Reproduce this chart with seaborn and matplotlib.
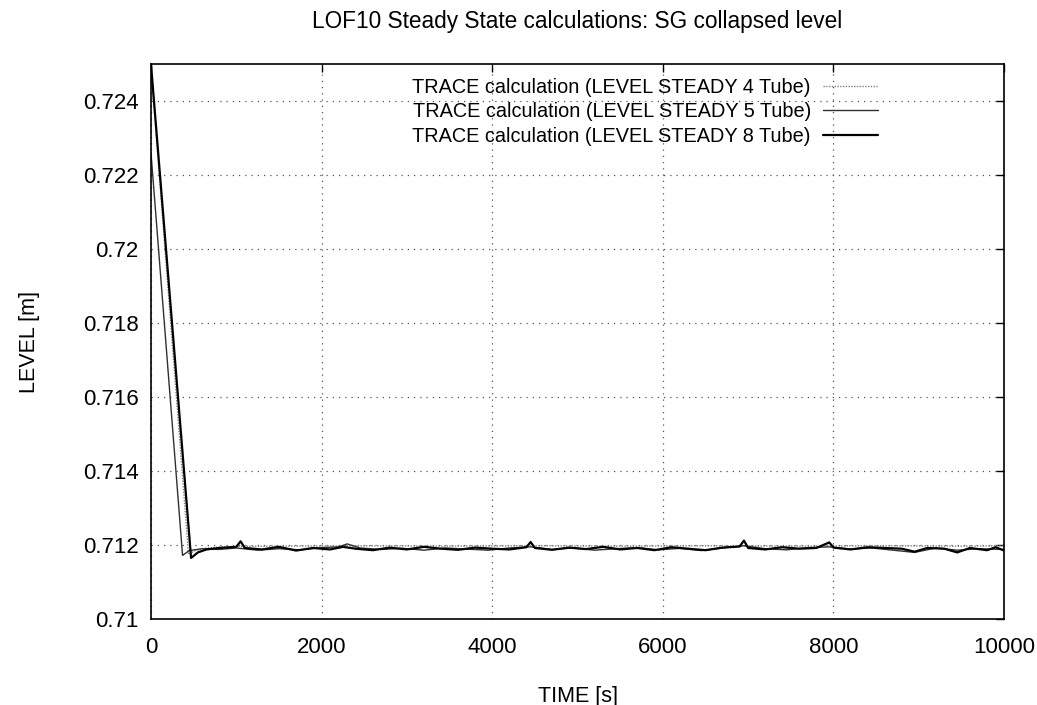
import matplotlib
matplotlib.use("Agg")
import matplotlib.pyplot as plt
import seaborn as sns
import pandas as pd

# ---- data ----
t_4tube = [0, 440, 520, 650, 900, 1500, 2500, 3500, 4500, 5500, 6500, 7500, 8500, 9500, 10000]
level_4tube = [0.7249, 0.71175, 0.71185, 0.71192, 0.71196, 0.71197, 0.71198, 0.71197,
               0.71198, 0.71197, 0.71198, 0.71197, 0.71198, 0.71197, 0.71198]

t_5tube = [0, 370, 450, 600, 800, 1000, 1250, 1500, 1750, 2000, 2200, 2300, 2450, 2700,
           2950, 3200, 3450, 3700, 3950, 4200, 4450, 4700, 4950, 5200, 5450, 5700, 5950,
           6200, 6450, 6700, 6950, 7200, 7450, 7700, 7950, 8200, 8450, 8700, 8950, 9200,
           9450, 9700, 10000]
level_5tube = [0.7226, 0.71172, 0.71185, 0.71190, 0.71188, 0.71192, 0.71186, 0.71190,
               0.71187, 0.71193, 0.71195, 0.71203, 0.71192, 0.71188, 0.71191, 0.71186,
               0.71192, 0.71189, 0.71186, 0.71192, 0.71195, 0.71188, 0.71192, 0.71186,
               0.71190, 0.71193, 0.71187, 0.71191, 0.71185, 0.71192, 0.71198, 0.71190,
               0.71187, 0.71193, 0.71195, 0.71189, 0.71192, 0.71186, 0.71180, 0.71192,
               0.71186, 0.71190, 0.71188]

t_8tube = [0, 470, 550, 650, 800, 1000, 1050, 1100, 1300, 1500, 1700, 1900, 2100, 2250,
           2400, 2600, 2800, 3000, 3200, 3400, 3600, 3800, 4000, 4200, 4400, 4450, 4500,
           4700, 4900, 5100, 5300, 5500, 5700, 5900, 6100, 6300, 6500, 6700, 6900, 6950,
           7000, 7200, 7400, 7600, 7800, 7950, 8000, 8200, 8400, 8600, 8800, 8950, 9100,
           9300, 9450, 9600, 9800, 9900, 10000]
level_8tube = [0.7250, 0.71165, 0.71180, 0.71188, 0.71192, 0.71195, 0.71210, 0.71192,
               0.71188, 0.71195, 0.71185, 0.71192, 0.71188, 0.71195, 0.71190, 0.71186,
               0.71193, 0.71188, 0.71195, 0.71190, 0.71187, 0.71193, 0.71190, 0.71188,
               0.71194, 0.71208, 0.71192, 0.71187, 0.71193, 0.71189, 0.71195, 0.71188,
               0.71192, 0.71186, 0.71194, 0.71190, 0.71186, 0.71193, 0.71196, 0.71212,
               0.71192, 0.71188, 0.71194, 0.71190, 0.71192, 0.71207, 0.71193, 0.71188,
               0.71194, 0.71192, 0.71190, 0.71182, 0.71192, 0.71190, 0.71180, 0.71192,
               0.71186, 0.71194, 0.71185]

labels = ["TRACE calculation (LEVEL STEADY 4 Tube)",
          "TRACE calculation (LEVEL STEADY 5 Tube)",
          "TRACE calculation (LEVEL STEADY 8 Tube)"]
x_ticks = [0, 2000, 4000, 6000, 8000, 10000]
y_ticks = [0.71, 0.712, 0.714, 0.716, 0.718, 0.72, 0.722, 0.724]
y_ticklabels = ["0.71", "0.712", "0.714", "0.716", "0.718", "0.72", "0.722", "0.724"]

# ---- plot ----
sns.set_style("white")
plt.rcParams["font.family"] = ["Liberation Sans", "DejaVu Sans"]
plt.rcParams["text.color"] = "black"
plt.rcParams["axes.labelcolor"] = "black"

fig = plt.figure(figsize=(10.37, 7.05), dpi=100)
ax = fig.add_axes([0.1456, 0.122, 0.8227, 0.787])

df4 = pd.DataFrame({"t": t_4tube, "v": level_4tube})
df5 = pd.DataFrame({"t": t_5tube, "v": level_5tube})
df8 = pd.DataFrame({"t": t_8tube, "v": level_8tube})

sns.lineplot(data=df4, x="t", y="v", ax=ax, color="#808080", lw=1.0,
             linestyle=(0, (1, 1)), label=labels[0])
sns.lineplot(data=df5, x="t", y="v", ax=ax, color="#303030", lw=1.0, label=labels[1])
sns.lineplot(data=df8, x="t", y="v", ax=ax, color="black", lw=1.6, label=labels[2])

ax.set_xlim(0, 10000)
ax.set_ylim(0.71, 0.725)
ax.set_xticks(x_ticks)
ax.set_xticklabels([str(v) for v in x_ticks])
ax.set_yticks(y_ticks)
ax.set_yticklabels(y_ticklabels)
ax.tick_params(direction="in", length=6, width=1, labelsize=16, top=True, right=True,
               colors="black")
ax.tick_params(axis="x", pad=13)
ax.tick_params(axis="y", pad=9)
ax.grid(True, linestyle=(0, (1, 4)), color="#555555", lw=0.9)
for s in ax.spines.values():
    s.set_color("black")
    s.set_linewidth(1.2)

ax.set_xlabel("TIME [s]", fontsize=15.5, labelpad=20)
ax.set_ylabel("LEVEL [m]", fontsize=15.5, labelpad=31)
ax.set_title("LOF10 Steady State calculations: SG collapsed level", fontsize=16.3,
             pad=26, color="black")

leg = ax.legend(loc="upper right", frameon=False, markerfirst=False, fontsize=14.3,
                handlelength=2.8, handletextpad=0.6, labelspacing=0.27,
                borderaxespad=0.3, bbox_to_anchor=(0.869, 1.0))
for t in leg.get_texts():
    t.set_color("black")

fig.savefig("out.png", dpi=100)
